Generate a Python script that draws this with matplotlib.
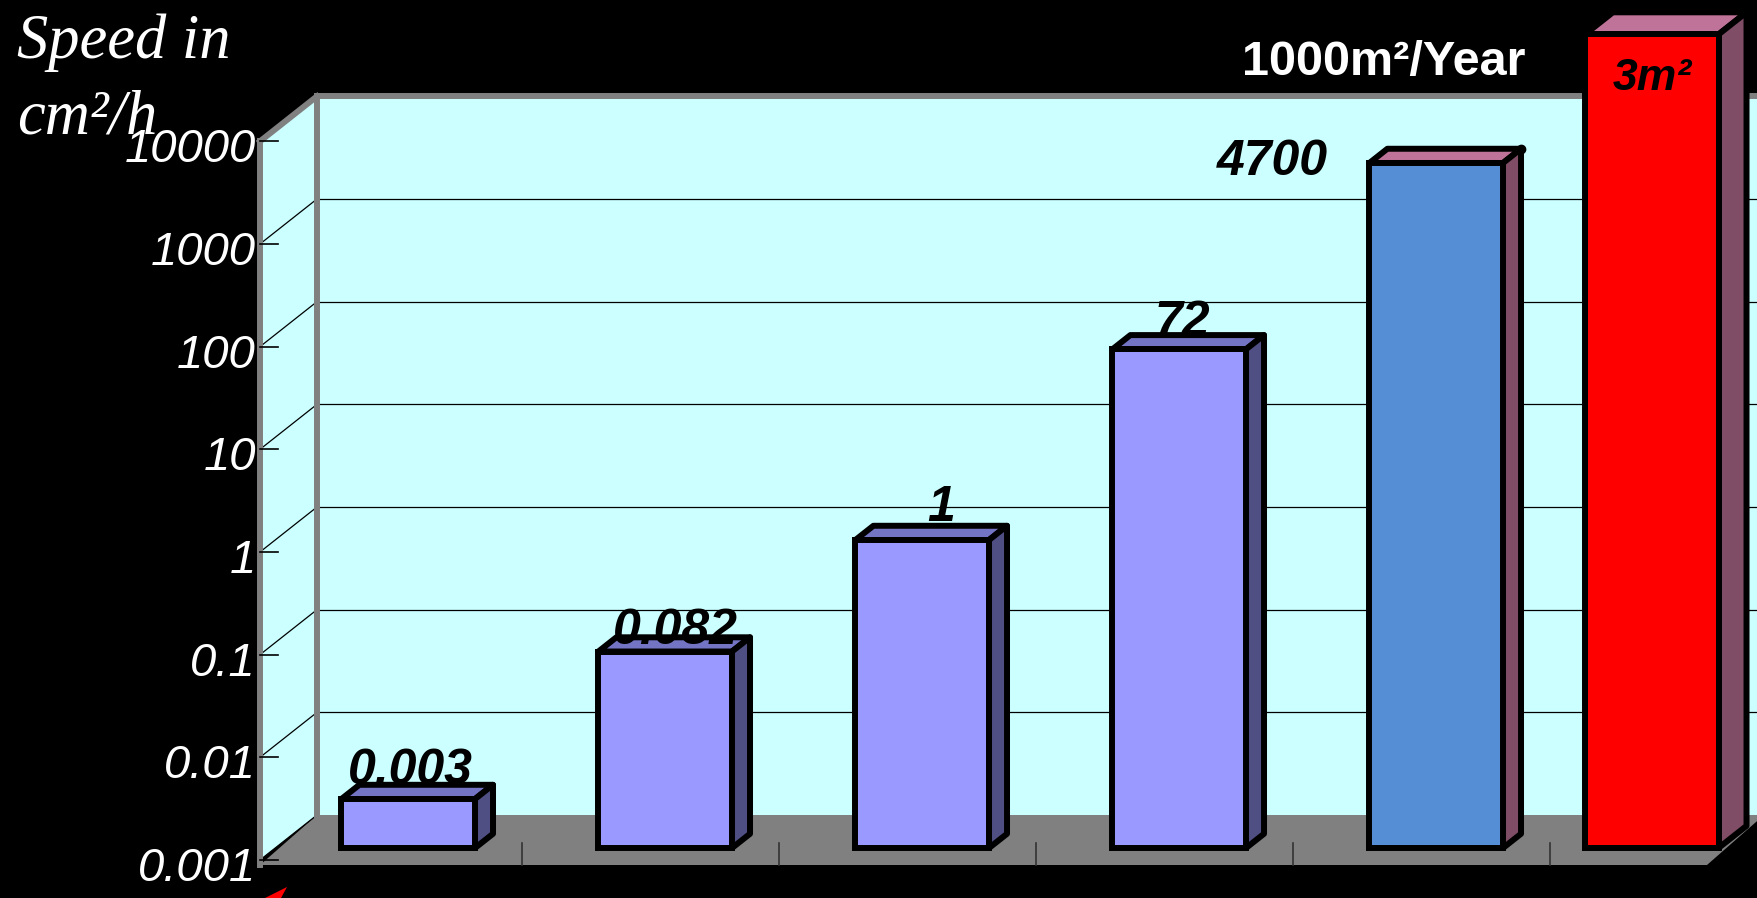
import numpy as np
import matplotlib
matplotlib.use('Agg')
import matplotlib.pyplot as plt
from matplotlib.patches import Polygon

# Speed of each method in cm2/h (log scale)
values = [0.003, 0.082, 1, 72, 4700]
value_labels = ['0.003', '0.082', '1', '72', '4700']
# reference bar (1000 m2/Year, 3 m2) drawn past the top of the scale
ref_value = 84000
ref_label = '3m²'
tick_values = [0.001, 0.01, 0.1, 1, 10, 100, 1000, 10000]
tick_labels = ['0.001', '0.01', '0.1', '1', '10', '100', '1000', '10000']

# figure / projection settings (pixels)
W, H, DPI = 1757, 898, 100
PX_CAT = 257.0      # pixels per category
X0_PX = 393.0       # centre of first category on the front plane
PX_DEC = 102.67     # pixels per decade
BASE_PX = 38.0      # height of 0.001 on the front plane
DEPTH_DX, DEPTH_DY = 57.0, 45.0
PT = 72.0 / DPI     # pixels -> points

WALL = '#CCFFFF'
FLOOR = '#808080'
EDGE_LW = 4.3
SANS = 'Liberation Sans'

fig = plt.figure(figsize=(W / DPI, H / DPI), dpi=DPI, facecolor='black')
ax = fig.add_axes([0, 0, 1, 1])
ax.set_yscale('log')
ax.set_xlim(-X0_PX / PX_CAT, (W - X0_PX) / PX_CAT)
ax.set_ylim(10 ** (-3 - BASE_PX / PX_DEC), 10 ** (-3 + (H - BASE_PX) / PX_DEC))
ax.axis('off')


def pt(x, y, d):
    # oblique projection: move a point back by depth fraction d
    return (x + DEPTH_DX * d / PX_CAT, y * 10 ** (DEPTH_DY * d / PX_DEC))


def poly(pts, fc, ec='none', lw=0, z=1):
    p = Polygon(pts, closed=True, facecolor=fc, edgecolor=ec, linewidth=lw,
                joinstyle='round', zorder=z)
    ax.add_patch(p)


ymin, ymax = tick_values[0], tick_values[-1]
x_left = (260 - X0_PX) / PX_CAT
x_right = (1707 - X0_PX) / PX_CAT
drop = 10 ** (-5 / PX_DEC)

# walls and floor
poly([pt(x_left, ymin, 1), pt(x_right, ymin, 1), pt(x_right, ymax, 1), pt(x_left, ymax, 1)], WALL)
poly([pt(x_left, ymin, 0), pt(x_left, ymax, 0), pt(x_left, ymax, 1), pt(x_left, ymin, 1)], WALL)
poly([pt(x_left, ymin * drop, 0), pt(x_right, ymin * drop, 0), pt(x_right, ymin, 1),
      pt(x_left, ymin, 1)], FLOOR, z=2)

# gridlines on the back wall and side wall
for v in tick_values[:-1]:
    a, b = pt(x_left, v, 0), pt(x_left, v, 1)
    ax.plot([a[0], b[0]], [a[1], b[1]], color='black', lw=0.9, zorder=3)
    if v > ymin:
        c = pt(x_right, v, 1)
        ax.plot([b[0], c[0]], [b[1], c[1]], color='black', lw=0.9, zorder=3)

# gray frame lines
gray_lines = [
    (pt(x_left, ymin * drop, 0), pt(x_left, ymax, 0)),
    (pt(x_left, ymax, 0), pt(x_left, ymax, 1)),
    (pt(x_left, ymin, 1), pt(x_left, ymax, 1)),
    (pt(x_left, ymax, 1), pt(x_right, ymax, 1)),
]
for a, b in gray_lines:
    ax.plot([a[0], b[0]], [a[1], b[1]], color='#808080', lw=4.3,
            solid_capstyle='projecting', zorder=4)

# value axis ticks and labels
for v, lab in zip(tick_values, tick_labels):
    ax.plot([x_left, x_left + 18 / PX_CAT], [v, v], color='black', lw=1.2, zorder=5)
    ax.annotate(lab, (x_left, v), xytext=(-4 * PT, -9 * PT), textcoords='offset points',
                ha='right', va='center', color='white', fontsize=34,
                fontstyle='italic', family=SANS, zorder=6)

# category ticks on the floor
for i in range(len(values)):
    xt = i + 0.5
    ax.plot([xt, xt], [ymin * drop, ymin * 10 ** (17 / PX_DEC)], color='#333333',
            lw=1.2, zorder=3)

# 3d bars
BAR_W = 0.52
D0 = 12.0 / DEPTH_DY


def draw_bar(xc, v, d1, front, top, side):
    xl, xr = xc - BAR_W / 2, xc + BAR_W / 2
    fx, base = pt(xc, ymin, D0)
    fy = pt(xc, v, D0)[1]
    ax.bar(fx, fy - base, bottom=base, width=BAR_W, color=front,
           edgecolor='black', linewidth=EDGE_LW, zorder=10)
    poly([pt(xl, v, D0), pt(xr, v, D0), pt(xr, v, d1), pt(xl, v, d1)], top,
         'black', EDGE_LW, z=9)
    poly([pt(xr, ymin, D0), pt(xr, v, D0), pt(xr, v, d1), pt(xr, ymin, d1)], side,
         'black', EDGE_LW, z=9)
    return xl, xr


front_cols = ['#9999FF'] * 4 + ['#558ED5']
top_cols = ['#7474C4'] * 4 + ['#C07399']
side_cols = ['#4F4F84'] * 4 + ['#7F4D66']
label_off = [(2, 15), (10, 8), (19, 19), (3, 13)]

for i, v in enumerate(values):
    xl, xr = draw_bar(i, v, D0 + 18.0 / DEPTH_DX, front_cols[i], top_cols[i], side_cols[i])
    if i < 4:
        dx, dy = label_off[i]
        ax.annotate(value_labels[i], pt(i, v, D0), xytext=(dx * PT, dy * PT),
                    textcoords='offset points', ha='center', va='baseline',
                    fontsize=36, fontweight='bold', fontstyle='italic',
                    family=SANS, color='black', zorder=12)
    else:
        ax.annotate(value_labels[i], pt(xl, v, D0), xytext=(-42 * PT, -12 * PT),
                    textcoords='offset points', ha='right', va='baseline',
                    fontsize=36, fontweight='bold', fontstyle='italic',
                    family=SANS, color='black', zorder=12)
        ax.plot(*pt(xr, v, D0 + 18.0 / DEPTH_DX), 'o', color='black', ms=6, zorder=12)

# reference bar
ref_x = (1651.5 - 15 - X0_PX) / PX_CAT
draw_bar(ref_x, ref_value, D0 + 28.0 / DEPTH_DX, '#FF0000', '#C07399', '#7F4D66')
ax.annotate(ref_label, pt(ref_x, ref_value, D0), xytext=(1 * PT, -56 * PT),
            textcoords='offset points', ha='center', va='baseline',
            fontsize=32, fontweight='bold', fontstyle='italic',
            family=SANS, color='black', zorder=12)

# titles
fig.text(17 / W, 1 - 58 / H, 'Speed in', color='white', fontsize=45,
         fontstyle='italic', family='Liberation Serif', va='baseline')
fig.text(17 / W, 1 - 133 / H, 'cm²/h', color='white', fontsize=45,
         fontstyle='italic', family='Liberation Serif', va='baseline', zorder=20)
fig.text(1384 / W, 1 - 75 / H, '1000m²/Year', color='white', fontsize=35,
         fontweight='bold', family=SANS, ha='center', va='baseline')

# arrow tip at the lower left corner
fig.patches.append(Polygon([(265 / W, 0), (287 / W, 11 / H), (281 / W, 0)],
                           closed=True, transform=fig.transFigure,
                           facecolor='#FF0000', edgecolor='none'))

fig.savefig('out.png', dpi=DPI, facecolor='black')
